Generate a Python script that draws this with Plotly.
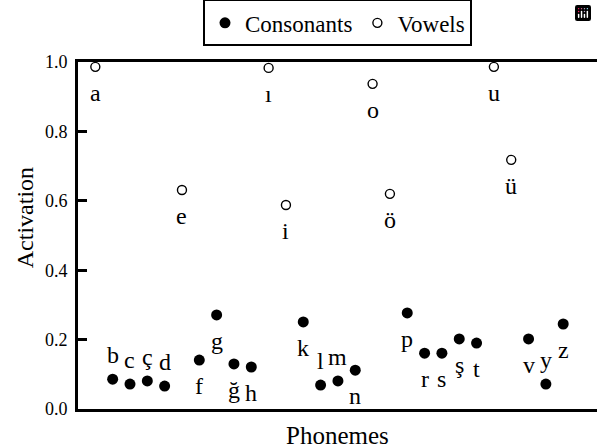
import plotly.graph_objects as go

phonemes = ["a", "b", "c", "ç", "d", "e", "f", "g", "ğ", "h", "ı", "i", "k", "l",
            "m", "n", "o", "ö", "p", "r", "s", "ş", "t", "u", "ü", "v", "y", "z"]
activation = [0.986, 0.086, 0.072, 0.081, 0.066, 0.631, 0.141, 0.271, 0.130, 0.121,
              0.983, 0.588, 0.251, 0.069, 0.081, 0.112, 0.937, 0.620, 0.277, 0.161,
              0.161, 0.202, 0.190, 0.986, 0.718, 0.202, 0.072, 0.245]
vowels = ["a", "e", "ı", "i", "o", "ö", "u", "ü"]
labels_above = ["b", "c", "ç", "d", "l", "m", "y"]
y_ticks = [0.0, 0.2, 0.4, 0.6, 0.8, 1.0]

FONT = "Liberation Serif"

cx = [p for p in phonemes if p not in vowels]
cy = [v for p, v in zip(phonemes, activation) if p not in vowels]
vx = [p for p in phonemes if p in vowels]
vy = [v for p, v in zip(phonemes, activation) if p in vowels]

fig = go.Figure()
fig.add_trace(go.Scatter(x=cx, y=cy, mode="markers", name="Consonants",
                         marker=dict(size=11, color="black", symbol="circle"),
                         cliponaxis=False))
fig.add_trace(go.Scatter(x=vx, y=vy, mode="markers", name="Vowels",
                         marker=dict(size=9, color="white", symbol="circle",
                                     line=dict(color="black", width=1.4)),
                         cliponaxis=False))

for p, v in zip(phonemes, activation):
    above = p in labels_above
    fig.add_annotation(x=p, y=v, text=p, showarrow=False,
                       yanchor="bottom" if above else "top",
                       yshift=9 if above else -11,
                       font=dict(family=FONT, size=24, color="black"))

# axis titles as annotations (positioned as in the reference)
fig.add_annotation(text="Activation", xref="paper", yref="paper", x=-0.102, y=0.55,
                   xanchor="center", yanchor="middle", textangle=-90, showarrow=False,
                   font=dict(family=FONT, size=24, color="black"))
fig.add_annotation(text="Phonemes", xref="paper", yref="paper", x=0.5, y=-0.075,
                   xanchor="center", yanchor="middle", showarrow=False,
                   font=dict(family=FONT, size=25, color="black"))

fig.update_layout(
    width=597, height=448,
    margin=dict(l=78, r=0, t=62, b=39, autoexpand=False),
    paper_bgcolor="white", plot_bgcolor="white",
    showlegend=True,
    modebar=dict(bgcolor="rgba(0,0,0,0)", color="rgba(0,0,0,0)",
                 activecolor="rgba(0,0,0,0)"),
    legend=dict(orientation="h", x=0.5, xanchor="center", y=1.045, yanchor="bottom",
                bordercolor="black", borderwidth=2, bgcolor="white",
                font=dict(family=FONT, size=23, color="black"),
                itemwidth=30, tracegroupgap=0),
    xaxis=dict(type="category", categoryorder="array", categoryarray=phonemes,
               range=[-1, 28.95], showticklabels=False, ticks="",
               showgrid=False, zeroline=False, automargin=False,
               showline=True, linecolor="black", linewidth=3, mirror=True),
    yaxis=dict(range=[0, 1], tickvals=y_ticks, ticktext=[f"{t:.1f}" for t in y_ticks],
               ticks="inside", ticklen=9, tickwidth=2.5, tickcolor="black",
               tickfont=dict(family=FONT, size=18, color="black"),
               ticklabelstandoff=4,
               showgrid=False, zeroline=False, automargin=False,
               showline=True, linecolor="black", linewidth=3, mirror=False),
)

fig.write_html("out.html", post_script="document.body.style.margin='0';")
